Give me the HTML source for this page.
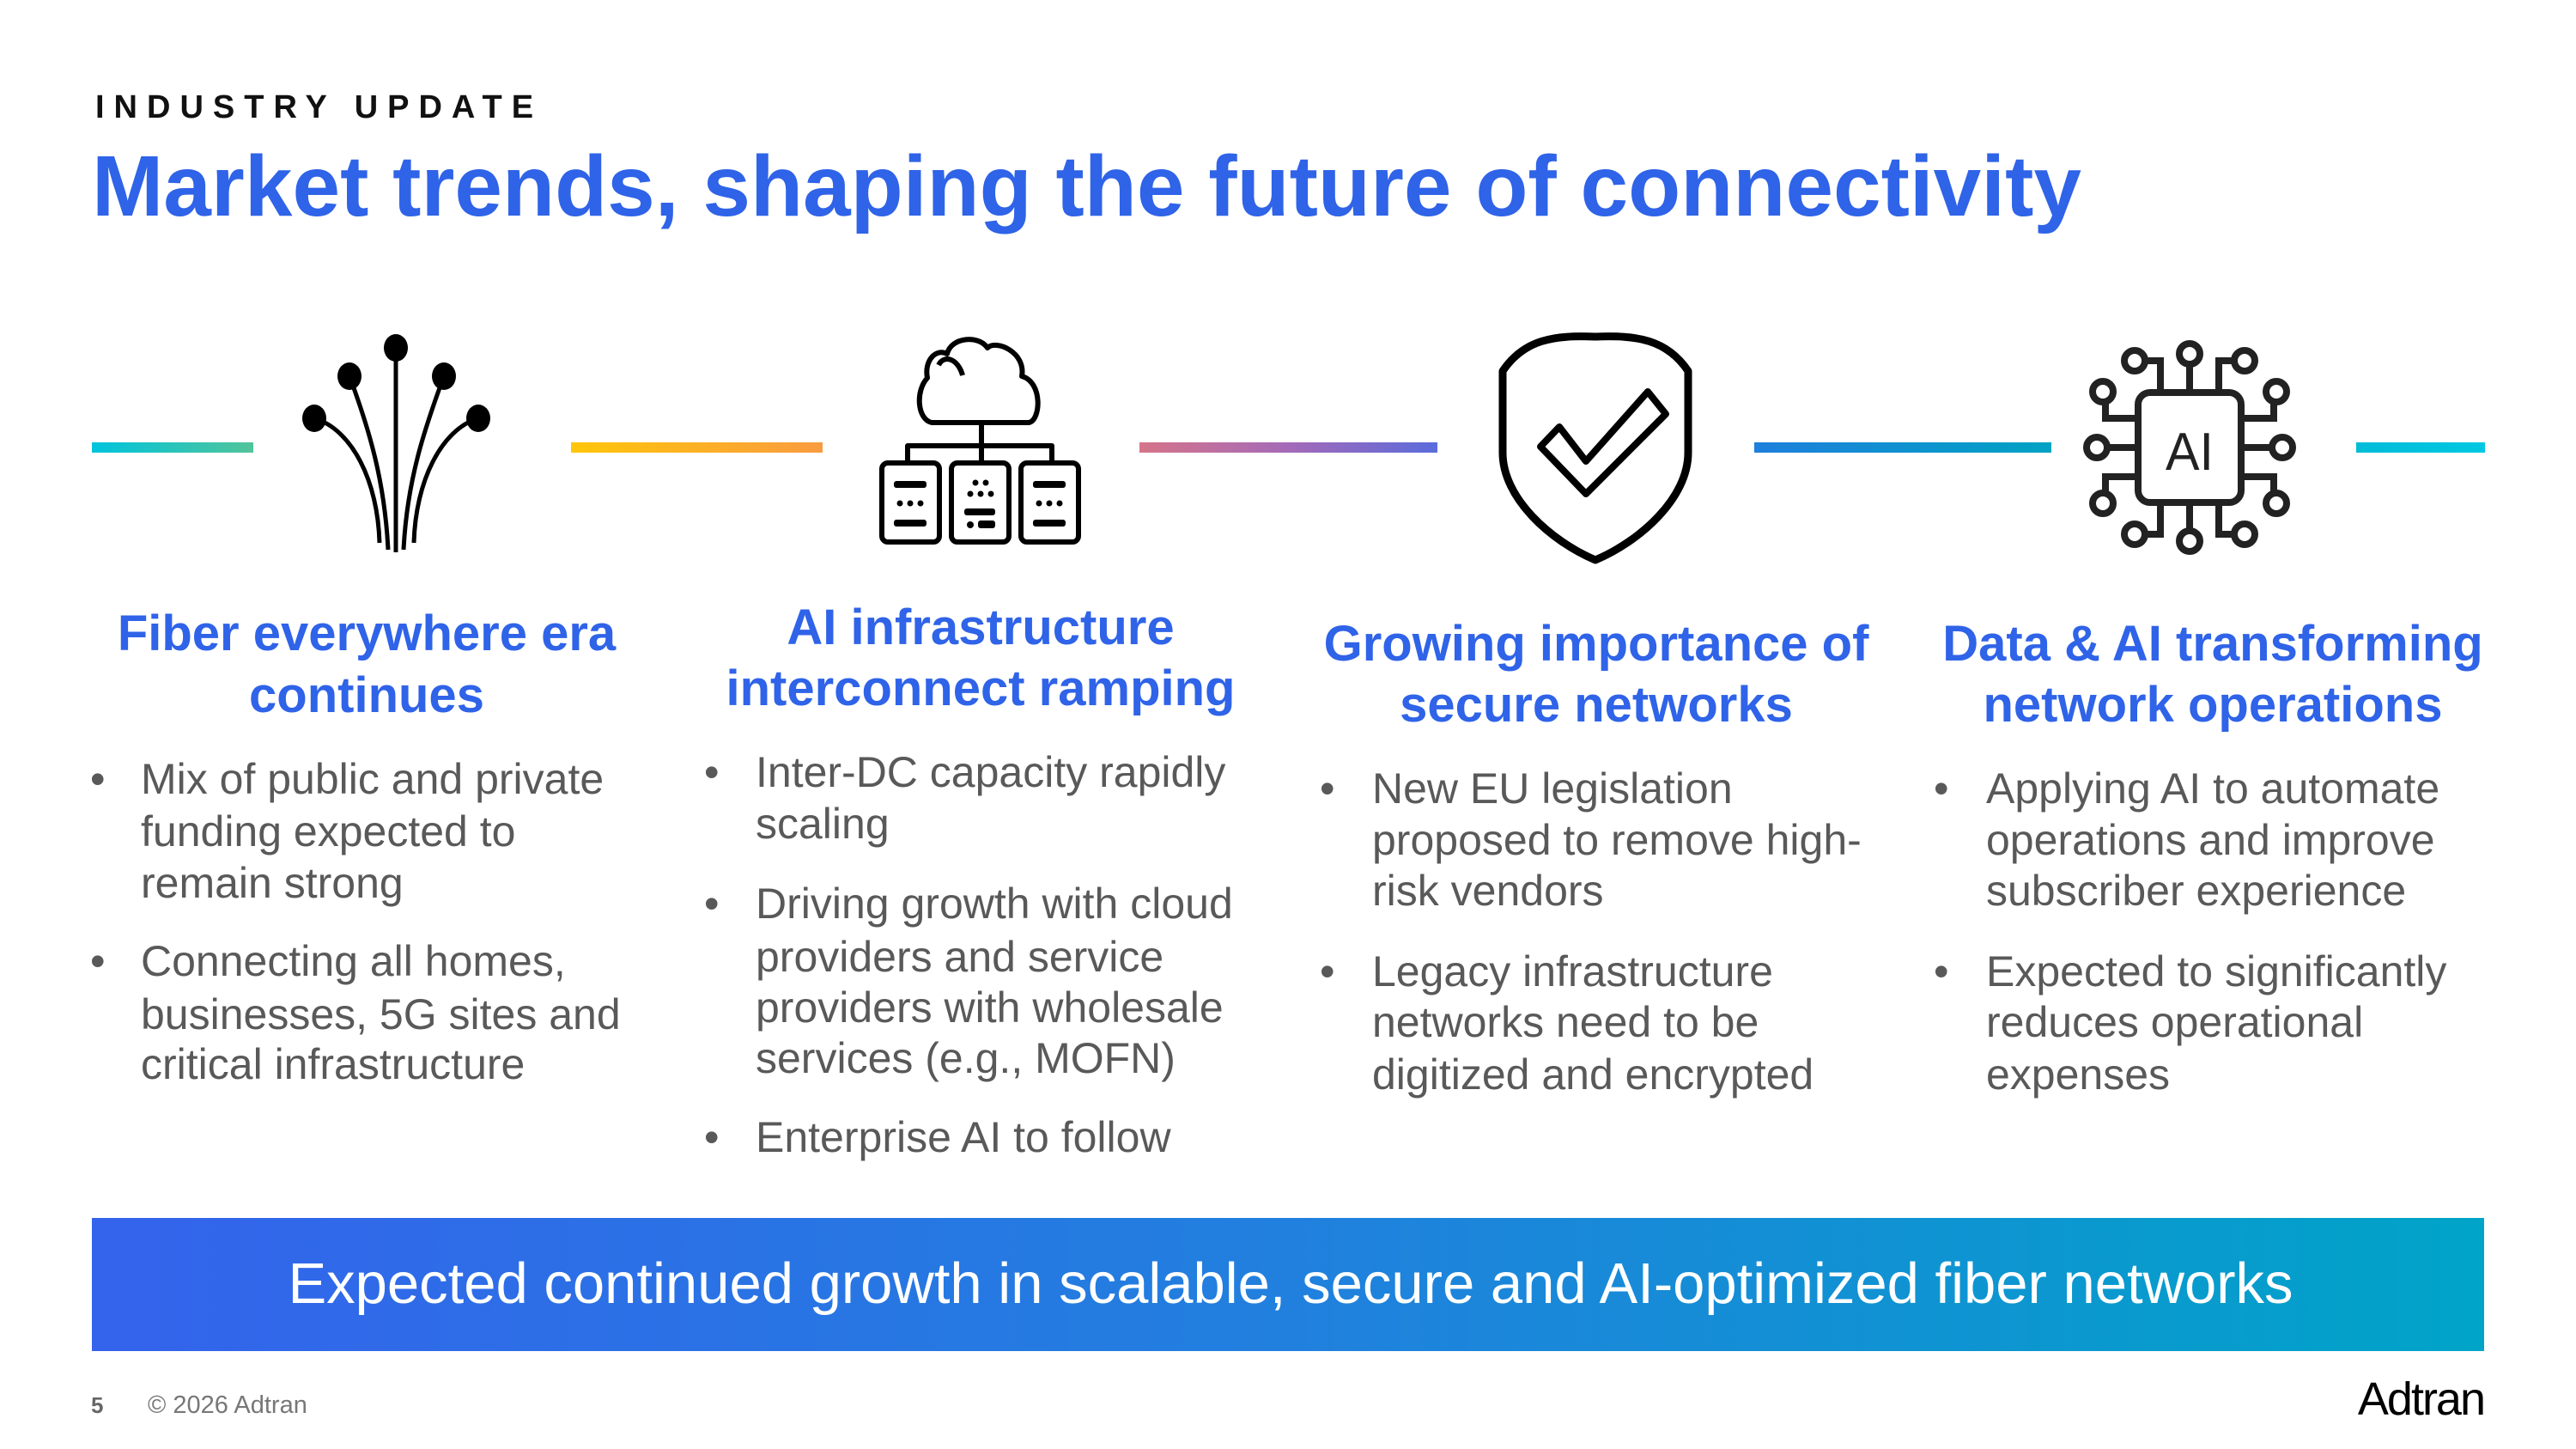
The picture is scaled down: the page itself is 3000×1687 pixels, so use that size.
<!DOCTYPE html>
<html><head><meta charset="utf-8"><style>
html,body{margin:0;padding:0;background:#fff;}
svg{display:block;}
text{font-family:"Liberation Sans",Arial,sans-serif;}
.h{font-weight:bold;font-size:58px;fill:#2f63e8;text-anchor:middle;}
.b{font-size:50px;fill:#595959;}
</style></head><body>
<svg width="3000" height="1687" viewBox="0 0 3000 1687" xmlns="http://www.w3.org/2000/svg">
<defs>
<linearGradient id="g1" x1="0" x2="1"><stop offset="0" stop-color="#00c4dc"/><stop offset="1" stop-color="#52c49a"/></linearGradient>
<linearGradient id="g2" x1="0" x2="1"><stop offset="0" stop-color="#ffc60a"/><stop offset="1" stop-color="#f99b40"/></linearGradient>
<linearGradient id="g3" x1="0" x2="1"><stop offset="0" stop-color="#d6748a"/><stop offset="0.5" stop-color="#a46ab8"/><stop offset="1" stop-color="#5a6cdc"/></linearGradient>
<linearGradient id="g4" x1="0" x2="1"><stop offset="0" stop-color="#1e7fdc"/><stop offset="1" stop-color="#00a3c4"/></linearGradient>
<linearGradient id="g5" x1="0" x2="1"><stop offset="0" stop-color="#00bcd8"/><stop offset="1" stop-color="#00c8e2"/></linearGradient>
<linearGradient id="gb" x1="0" x2="1"><stop offset="0" stop-color="#3463ec"/><stop offset="0.5" stop-color="#2180de"/><stop offset="1" stop-color="#00a4c8"/></linearGradient>
</defs>

<text x="111" y="137" font-size="38" font-weight="bold" letter-spacing="11" fill="#111">INDUSTRY UPDATE</text>
<text x="107" y="251" font-size="100" font-weight="bold" fill="#2f63e8">Market trends, shaping the future of connectivity</text>

<!-- lines -->
<rect x="107" y="515" width="188" height="12" fill="url(#g1)"/>
<rect x="665" y="515" width="293" height="12" fill="url(#g2)"/>
<rect x="1327" y="515" width="347" height="12" fill="url(#g3)"/>
<rect x="2043" y="515" width="346" height="12" fill="url(#g4)"/>
<rect x="2744" y="515" width="150" height="12" fill="url(#g5)"/>

<!-- fiber icon -->
<g stroke="#000" stroke-width="5" fill="none" stroke-linecap="butt">
<path d="M461,405 L461,643"/>
<path d="M407,438 C430,500 448,560 452,640"/>
<path d="M517,438 C494,500 474,560 470,640"/>
<path d="M366,487 C410,500 440,560 442,632"/>
<path d="M557,487 C514,500 484,560 482,632"/>
</g>
<g fill="#000">
<ellipse cx="461" cy="405" rx="14" ry="16"/>
<ellipse cx="407" cy="438" rx="14" ry="16"/>
<ellipse cx="517" cy="438" rx="14" ry="16"/>
<ellipse cx="366" cy="487" rx="14" ry="16"/>
<ellipse cx="557" cy="487" rx="14" ry="16"/>
</g>

<!-- cloud icon -->
<g stroke="#000" stroke-width="6" fill="none" stroke-linejoin="round">
<path d="M1085,492 C1068,488 1066,455 1080,440 C1076,420 1090,405 1103,412 C1108,392 1140,390 1150,405 C1160,395 1195,410 1190,438 C1215,445 1212,490 1198,492 Z"/>
<path d="M1121,437 C1116,418 1100,412 1093,425"/>
<path d="M1143,493 L1143,519 M1057,539 L1057,519 L1225,519 L1225,539 M1143,519 L1143,539"/>
<rect x="1027" y="539" width="67" height="92" rx="7"/>
<rect x="1108" y="539" width="67" height="92" rx="7"/>
<rect x="1189" y="539" width="67" height="92" rx="7"/>
</g>
<g fill="#000">
<rect x="1041" y="560" width="38" height="8" rx="3"/><rect x="1041" y="605" width="38" height="8" rx="3"/>
<rect x="1203" y="560" width="38" height="8" rx="3"/><rect x="1203" y="605" width="38" height="8" rx="3"/>
<circle cx="1048" cy="586" r="3.5"/><circle cx="1060" cy="586" r="3.5"/><circle cx="1072" cy="586" r="3.5"/>
<circle cx="1210" cy="586" r="3.5"/><circle cx="1222" cy="586" r="3.5"/><circle cx="1234" cy="586" r="3.5"/>
<circle cx="1136" cy="562" r="3.5"/><circle cx="1148" cy="562" r="3.5"/>
<circle cx="1130" cy="575" r="3.5"/><circle cx="1142" cy="575" r="3.5"/><circle cx="1154" cy="575" r="3.5"/>
<rect x="1123" y="592" width="36" height="8" rx="3"/>
<circle cx="1130" cy="611" r="4"/><rect x="1139" y="606" width="20" height="9" rx="3"/>
</g>

<!-- shield -->
<g stroke="#000" stroke-width="9" fill="none" stroke-linejoin="round">
<path d="M1750,432 C1775,395 1810,390 1858,392 C1906,390 1941,395 1966,432 L1966,527 C1966,580 1910,630 1858,652 C1806,630 1750,580 1750,527 Z"/>
</g>
<polygon points="1794,520 1816,497 1847,537 1919,456 1940,482 1847,575" stroke="#000" stroke-width="8" fill="none" stroke-linejoin="round"/>

<!-- AI chip -->
<g stroke="#222" stroke-width="8" fill="none">
<rect x="2490" y="457" width="120" height="128" rx="14"/>
<path d="M2550,457 L2550,426 M2516,457 L2516,420 L2498,420 M2584,457 L2584,420 L2602,420"/>
<path d="M2550,585 L2550,617 M2516,585 L2516,622 L2498,622 M2584,585 L2584,622 L2602,622"/>
<path d="M2490,487 L2452,487 L2452,468 M2490,521 L2454,521 M2490,555 L2452,555 L2452,573"/>
<path d="M2610,487 L2648,487 L2648,468 M2610,521 L2646,521 M2610,555 L2648,555 L2648,573"/>
<circle cx="2550" cy="412" r="12"/><circle cx="2486" cy="420" r="12"/><circle cx="2614" cy="420" r="12"/>
<circle cx="2550" cy="630" r="12"/><circle cx="2486" cy="622" r="12"/><circle cx="2614" cy="622" r="12"/>
<circle cx="2449" cy="456" r="12"/><circle cx="2442" cy="521" r="12"/><circle cx="2449" cy="586" r="12"/>
<circle cx="2651" cy="456" r="12"/><circle cx="2658" cy="521" r="12"/><circle cx="2651" cy="586" r="12"/>
</g>
<text x="2550" y="547" font-size="62" fill="#222" text-anchor="middle" textLength="56" lengthAdjust="spacingAndGlyphs">AI</text>

<!-- column 1 -->
<text class="h" x="427" y="757">Fiber everywhere era</text>
<text class="h" x="427" y="829">continues</text>
<text class="b" x="105" y="924">•</text>
<text class="b" x="164" y="924">Mix of public and private</text>
<text class="b" x="164" y="985">funding expected to</text>
<text class="b" x="164" y="1045">remain strong</text>
<text class="b" x="105" y="1136">•</text>
<text class="b" x="164" y="1136">Connecting all homes,</text>
<text class="b" x="164" y="1198">businesses, 5G sites and</text>
<text class="b" x="164" y="1256">critical infrastructure</text>

<!-- column 2 -->
<text class="h" x="1142" y="750">AI infrastructure</text>
<text class="h" x="1142" y="821">interconnect ramping</text>
<text class="b" x="820" y="916">•</text>
<text class="b" x="880" y="916">Inter-DC capacity rapidly</text>
<text class="b" x="880" y="976">scaling</text>
<text class="b" x="820" y="1069">•</text>
<text class="b" x="880" y="1069">Driving growth with cloud</text>
<text class="b" x="880" y="1131">providers and service</text>
<text class="b" x="880" y="1190">providers with wholesale</text>
<text class="b" x="880" y="1249">services (e.g., MOFN)</text>
<text class="b" x="820" y="1341">•</text>
<text class="b" x="880" y="1341">Enterprise AI to follow</text>

<!-- column 3 -->
<text class="h" x="1859" y="769">Growing importance of</text>
<text class="h" x="1859" y="840">secure networks</text>
<text class="b" x="1537" y="935">•</text>
<text class="b" x="1598" y="935">New EU legislation</text>
<text class="b" x="1598" y="995">proposed to remove high-</text>
<text class="b" x="1598" y="1054">risk vendors</text>
<text class="b" x="1537" y="1148">•</text>
<text class="b" x="1598" y="1148">Legacy infrastructure</text>
<text class="b" x="1598" y="1207">networks need to be</text>
<text class="b" x="1598" y="1268">digitized and encrypted</text>

<!-- column 4 -->
<text class="h" x="2577" y="769">Data &amp; AI transforming</text>
<text class="h" x="2577" y="840">network operations</text>
<text class="b" x="2252" y="935">•</text>
<text class="b" x="2313" y="935">Applying AI to automate</text>
<text class="b" x="2313" y="995">operations and improve</text>
<text class="b" x="2313" y="1054">subscriber experience</text>
<text class="b" x="2252" y="1148">•</text>
<text class="b" x="2313" y="1148">Expected to significantly</text>
<text class="b" x="2313" y="1207">reduces operational</text>
<text class="b" x="2313" y="1268">expenses</text>

<!-- banner -->
<rect x="107" y="1418" width="2786" height="155" fill="url(#gb)"/>
<text x="1503" y="1517" font-size="67" fill="#fff" text-anchor="middle">Expected continued growth in scalable, secure and AI-optimized fiber networks</text>

<!-- footer -->
<text x="106" y="1645" font-size="26" fill="#666" font-weight="bold">5</text>
<text x="172" y="1645" font-size="29" fill="#777">© 2026 Adtran</text>
<text x="2893" y="1647" font-size="54" fill="#000" text-anchor="end" letter-spacing="-2">Adtran</text>
</svg>
</body></html>
